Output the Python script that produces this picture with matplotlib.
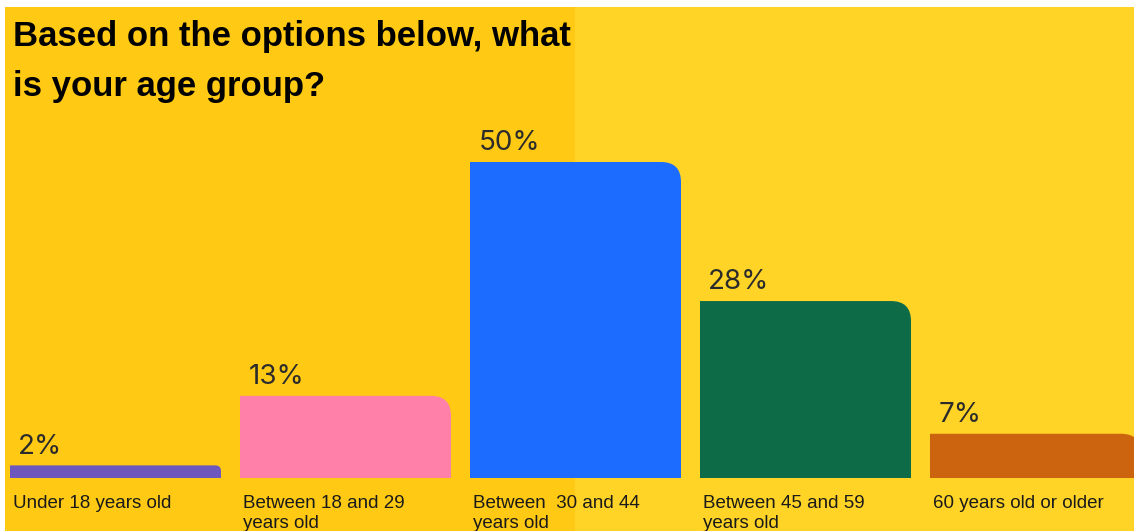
import matplotlib
matplotlib.use('Agg')
import matplotlib.pyplot as plt
from matplotlib.path import Path
from matplotlib.patches import PathPatch, Rectangle

# datos
categorias = ['Under 18 years old', 'Between 18 and 29\nyears old', 'Between  30 and 44\nyears old',
              'Between 45 and 59\nyears old', '60 years old or older']
valores = [2, 13, 50, 28, 7]
etiquetas = ['2%', '13%', '50%', '28%', '7%']
colores = ['#6F58BD', '#FF80A8', '#1C6DFF', '#0E6B48', '#CC630F']

W, H, DPI = 1134, 531, 100
fig = plt.figure(figsize=(W / DPI, H / DPI), dpi=DPI, facecolor='white')

# fondo en dos tonos de amarillo
fig.patches.append(Rectangle((5 / W, 0), (575 - 5) / W, 1 - 7 / H, transform=fig.transFigure,
                             facecolor='#FFC914', edgecolor='none', zorder=-5))
fig.patches.append(Rectangle((575 / W, 0), 1 - 575 / W, 1 - 7 / H, transform=fig.transFigure,
                             facecolor='#FFD426', edgecolor='none', zorder=-5))

ax = fig.add_axes([0, 0, 1, 1])
ax.set_facecolor('none')
paso = 230.0          # px entre barras
px_pct = 6.32         # px por punto porcentual
ax.set_xlim(-10 / paso, (W - 10) / paso)
ax.set_ylim(-53 / px_pct, (H - 53) / px_pct)
ax.axis('off')

ancho = 211 / paso
radio = 20  # px


def barra_redondeada(x0, h, color):
    # solo la esquina superior derecha redondeada
    r_px = min(radio, h * px_pct * 0.45)
    rx = r_px / paso
    ry = r_px / px_pct
    x1 = x0 + ancho
    verts = [(x0, 0), (x1, 0), (x1, h - ry), (x1, h), (x1 - rx, h), (x0, h), (x0, 0)]
    codes = [Path.MOVETO, Path.LINETO, Path.LINETO, Path.CURVE3, Path.CURVE3, Path.LINETO, Path.CLOSEPOLY]
    ax.add_patch(PathPatch(Path(verts, codes), facecolor=color, edgecolor='none', zorder=2))


for i, (v, c) in enumerate(zip(valores, colores)):
    barra_redondeada(i, v, c)
    ax.annotate(etiquetas[i], (i, v), xytext=(6, 8.5), textcoords='offset points',
                ha='left', va='baseline', fontsize=20, color='#2B2B2B',
                family=['Inter', 'DejaVu Sans'])
    ax.annotate(categorias[i], (i, 0), xytext=(2.5, -12), textcoords='offset points',
                ha='left', va='top', fontsize=13.5, color='#1A1A1A', linespacing=1.25,
                family=['Liberation Sans', 'DejaVu Sans'])

fig.text(13 / W, 1 - 20 / H, 'Based on the options below, what\nis your age group?',
         ha='left', va='top', fontsize=25, fontweight='bold', color='black', linespacing=1.65,
         family=['Liberation Sans', 'DejaVu Sans'])

fig.savefig('out.png', dpi=DPI, facecolor=fig.get_facecolor())
